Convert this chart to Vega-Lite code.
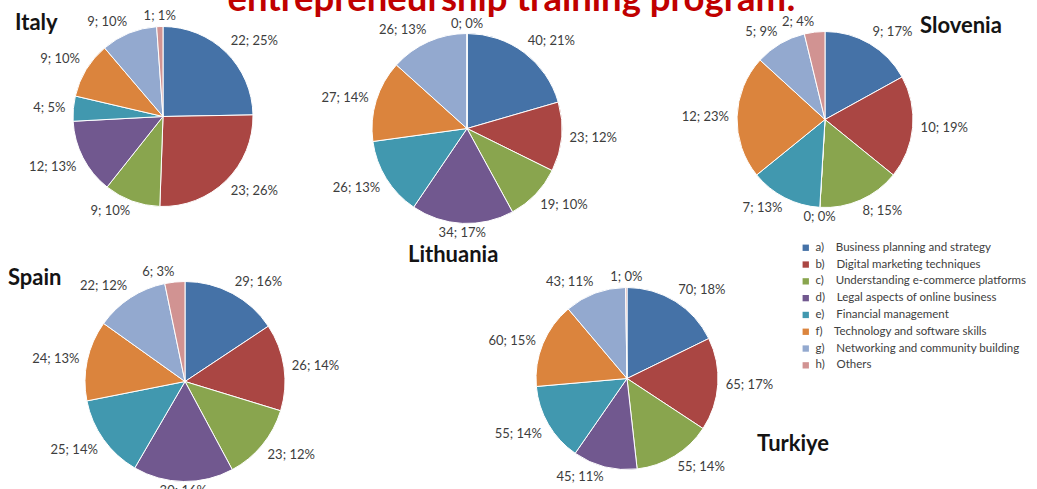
{
  "$schema": "https://vega.github.io/schema/vega-lite/v6.json",
  "padding": {"top": -18.5, "left": 0, "right": 0, "bottom": 0},
  "background": "white",
  "spacing": 0,
  "data": {"values": [
    {"country": "Italy", "category": "a) Business planning and strategy", "value": 22, "pct": 25},
    {"country": "Italy", "category": "b) Digital marketing techniques", "value": 23, "pct": 26},
    {"country": "Italy", "category": "c) Understanding e-commerce platforms", "value": 9, "pct": 10},
    {"country": "Italy", "category": "d) Legal aspects of online business", "value": 12, "pct": 13},
    {"country": "Italy", "category": "e) Financial management", "value": 4, "pct": 5},
    {"country": "Italy", "category": "f) Technology and software skills", "value": 9, "pct": 10},
    {"country": "Italy", "category": "g) Networking and community building", "value": 9, "pct": 10},
    {"country": "Italy", "category": "h) Others", "value": 1, "pct": 1},
    {"country": "Lithuania", "category": "a) Business planning and strategy", "value": 40, "pct": 21},
    {"country": "Lithuania", "category": "b) Digital marketing techniques", "value": 23, "pct": 12},
    {"country": "Lithuania", "category": "c) Understanding e-commerce platforms", "value": 19, "pct": 10},
    {"country": "Lithuania", "category": "d) Legal aspects of online business", "value": 34, "pct": 17},
    {"country": "Lithuania", "category": "e) Financial management", "value": 26, "pct": 13},
    {"country": "Lithuania", "category": "f) Technology and software skills", "value": 27, "pct": 14},
    {"country": "Lithuania", "category": "g) Networking and community building", "value": 26, "pct": 13},
    {"country": "Lithuania", "category": "h) Others", "value": 0, "pct": 0},
    {"country": "Slovenia", "category": "a) Business planning and strategy", "value": 9, "pct": 17},
    {"country": "Slovenia", "category": "b) Digital marketing techniques", "value": 10, "pct": 19},
    {"country": "Slovenia", "category": "c) Understanding e-commerce platforms", "value": 8, "pct": 15},
    {"country": "Slovenia", "category": "d) Legal aspects of online business", "value": 0, "pct": 0},
    {"country": "Slovenia", "category": "e) Financial management", "value": 7, "pct": 13},
    {"country": "Slovenia", "category": "f) Technology and software skills", "value": 12, "pct": 23},
    {"country": "Slovenia", "category": "g) Networking and community building", "value": 5, "pct": 9},
    {"country": "Slovenia", "category": "h) Others", "value": 2, "pct": 4},
    {"country": "Spain", "category": "a) Business planning and strategy", "value": 29, "pct": 16},
    {"country": "Spain", "category": "b) Digital marketing techniques", "value": 26, "pct": 14},
    {"country": "Spain", "category": "c) Understanding e-commerce platforms", "value": 23, "pct": 12},
    {"country": "Spain", "category": "d) Legal aspects of online business", "value": 30, "pct": 16},
    {"country": "Spain", "category": "e) Financial management", "value": 25, "pct": 14},
    {"country": "Spain", "category": "f) Technology and software skills", "value": 24, "pct": 13},
    {"country": "Spain", "category": "g) Networking and community building", "value": 22, "pct": 12},
    {"country": "Spain", "category": "h) Others", "value": 6, "pct": 3},
    {"country": "Turkiye", "category": "a) Business planning and strategy", "value": 70, "pct": 18},
    {"country": "Turkiye", "category": "b) Digital marketing techniques", "value": 65, "pct": 17},
    {"country": "Turkiye", "category": "c) Understanding e-commerce platforms", "value": 55, "pct": 14},
    {"country": "Turkiye", "category": "d) Legal aspects of online business", "value": 45, "pct": 11},
    {"country": "Turkiye", "category": "e) Financial management", "value": 55, "pct": 14},
    {"country": "Turkiye", "category": "f) Technology and software skills", "value": 60, "pct": 15},
    {"country": "Turkiye", "category": "g) Networking and community building", "value": 43, "pct": 11},
    {"country": "Turkiye", "category": "h) Others", "value": 1, "pct": 0}
  ]},
  "transform": [
    {"stack": "value", "groupby": ["country"], "sort": [{"field": "category", "order": "ascending"}], "offset": "normalize", "as": ["s0", "s1"]},
    {"calculate": "(datum.s0 + datum.s1) / 2", "as": "mid"},
    {"calculate": "datum.value + '; ' + datum.pct + '%'", "as": "label"}
  ],
  "vconcat": [
    {"bounds": "flush", "spacing": 0, "hconcat": [
      {"width": 326, "height": 190,
       "title": {"text": "Italy", "dx": 15, "dy": 57},
       "layer": [
         {"transform": [{"filter": "datum.country == 'Italy'"}],
          "mark": {"type": "arc", "outerRadius": 90, "stroke": "white", "strokeWidth": 1},
          "encoding": {"theta": {"field": "s0", "type": "quantitative", "stack": null, "scale": {"domain": [0, 1]}}, "theta2": {"field": "s1"},
                       "color": {"field": "category", "type": "nominal", "legend": {"labelExpr": "replace(datum.label, ') ', ')\u00a0\u00a0\u00a0\u00a0')"}}}},
         {"transform": [{"filter": "datum.country == 'Italy'"}],
          "mark": {"type": "text", "radius": {"expr": "93 + 5 * abs(sin(2 * PI * datum.mid))"}, "style": "pielabel"},
          "encoding": {"theta": {"field": "mid", "type": "quantitative", "stack": null}, "text": {"field": "label"}}},
         {"data": {"values": [{"heading": "entrepreneurship training program:"}]},
          "mark": {"type": "text", "dx": 348.5, "dy": -106, "baseline": "alphabetic", "align": "center", "font": "Lato", "fontSize": 36.5, "fontWeight": "bold", "fill": "#C00000"},
          "encoding": {"text": {"field": "heading"}}}
       ]},
      {"width": 282, "height": 214,
       "title": {"text": "Lithuania", "dx": 82, "dy": 253},
       "transform": [{"filter": "datum.country == 'Lithuania'"}],
       "layer": [
         {"mark": {"type": "arc", "outerRadius": 95, "stroke": "white", "strokeWidth": 1},
          "encoding": {"theta": {"field": "s0", "type": "quantitative", "stack": null, "scale": {"domain": [0, 1]}}, "theta2": {"field": "s1"},
                       "color": {"field": "category", "type": "nominal"}}},
         {"mark": {"type": "text", "radius": {"expr": "98 + 5 * abs(sin(2 * PI * datum.mid))"}, "style": "pielabel"},
          "encoding": {"theta": {"field": "mid", "type": "quantitative", "stack": null}, "text": {"field": "label"}}}
       ]},
      {"width": 434, "height": 196,
       "title": {"text": "Slovenia", "dx": 312, "dy": 26},
       "transform": [{"filter": "datum.country == 'Slovenia'"}],
       "layer": [
         {"mark": {"type": "arc", "outerRadius": 88, "stroke": "white", "strokeWidth": 1},
          "encoding": {"theta": {"field": "s0", "type": "quantitative", "stack": null, "scale": {"domain": [0, 1]}}, "theta2": {"field": "s1"},
                       "color": {"field": "category", "type": "nominal"}}},
         {"mark": {"type": "text", "radius": {"expr": "91 + 5 * abs(sin(2 * PI * datum.mid))"}, "style": "pielabel"},
          "encoding": {"theta": {"field": "mid", "type": "quantitative", "stack": null}, "text": {"field": "label"}}}
       ]}
    ]},
    {"bounds": "flush", "spacing": 0, "hconcat": [
      {"width": 370, "height": 226,
       "title": {"text": "Spain", "dx": 8, "dy": 28.5},
       "transform": [{"filter": "datum.country == 'Spain'"}],
       "layer": [
         {"mark": {"type": "arc", "outerRadius": 100, "stroke": "white", "strokeWidth": 1},
          "encoding": {"theta": {"field": "s0", "type": "quantitative", "stack": null, "scale": {"domain": [0, 1]}}, "theta2": {"field": "s1"},
                       "color": {"field": "category", "type": "nominal"}}},
         {"mark": {"type": "text", "radius": {"expr": "103 + 5 * abs(sin(2 * PI * datum.mid))"}, "style": "pielabel"},
          "encoding": {"theta": {"field": "mid", "type": "quantitative", "stack": null}, "text": {"field": "label"}}}
       ]},
      {"width": 514, "height": 220,
       "title": {"text": "Turkiye", "dx": 387, "dy": 191.5},
       "transform": [{"filter": "datum.country == 'Turkiye'"}],
       "layer": [
         {"mark": {"type": "arc", "outerRadius": 91, "stroke": "white", "strokeWidth": 1},
          "encoding": {"theta": {"field": "s0", "type": "quantitative", "stack": null, "scale": {"domain": [0, 1]}}, "theta2": {"field": "s1"},
                       "color": {"field": "category", "type": "nominal"}}},
         {"mark": {"type": "text", "radius": {"expr": "94 + 5 * abs(sin(2 * PI * datum.mid))"}, "style": "pielabel"},
          "encoding": {"theta": {"field": "mid", "type": "quantitative", "stack": null}, "text": {"field": "label"}}}
       ]}
    ]}
  ],
  "resolve": {"scale": {"color": "shared"}},
  "config": {
    "view": {"stroke": null},
    "title": {"anchor": "start", "frame": "group", "offset": 0, "baseline": "alphabetic", "font": "Lato", "fontSize": 22, "fontWeight": "bold", "color": "#141414"},
    "text": {"font": "Lato", "fontSize": 13, "fill": "#3d3d3d"},
    "style": {"pielabel": {
      "align": {"expr": "datum.mid < 0.015 || datum.mid > 0.985 || abs(datum.mid - 0.5) < 0.015 ? 'center' : datum.mid < 0.5 ? 'left' : 'right'"},
      "baseline": {"expr": "datum.mid < 0.1875 || datum.mid > 0.8125 ? 'bottom' : (datum.mid > 0.3125 && datum.mid < 0.6875) ? 'top' : 'middle'"}
    }},
    "range": {"category": ["#4572A7", "#AA4643", "#89A54E", "#71588F", "#4198AF", "#DB843D", "#93A9CF", "#D19392"]},
    "legend": {"orient": "none", "legendX": 800, "legendY": 220.5, "title": null, "padding": 0,
               "symbolType": "square", "symbolSize": 40, "symbolStrokeWidth": 0,
               "labelFont": "Lato", "labelFontSize": 11.5, "labelColor": "#404040", "labelLimit": 300,
               "rowPadding": 3.8, "labelOffset": 4}
  }
}
